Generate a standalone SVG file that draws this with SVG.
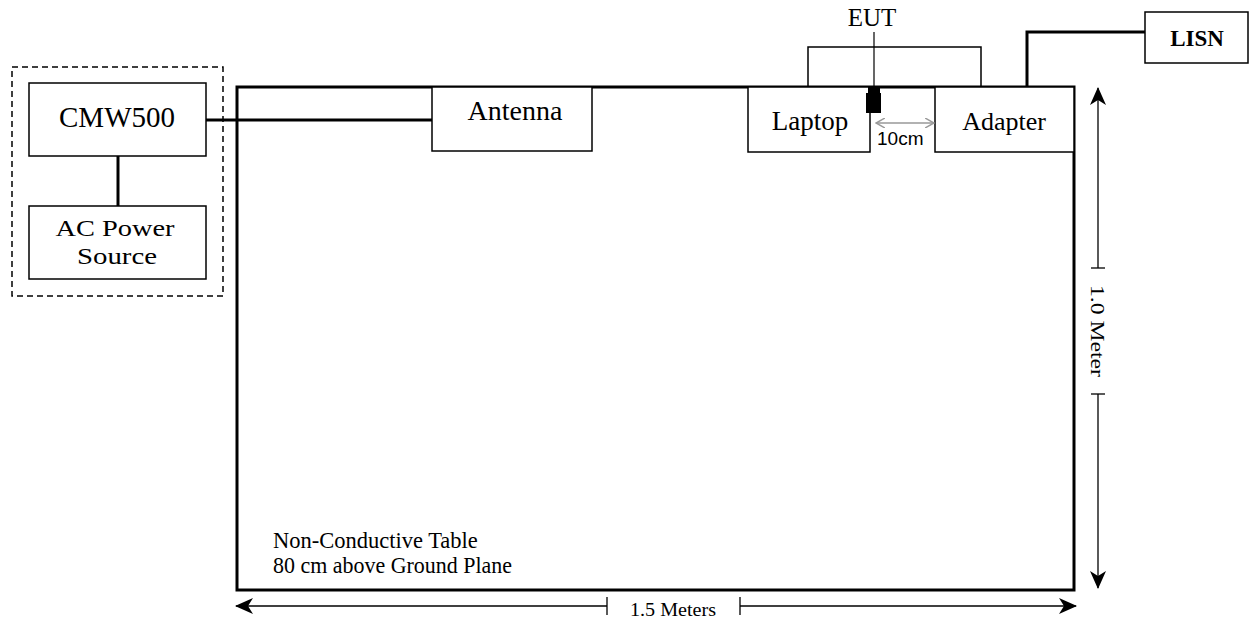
<svg xmlns="http://www.w3.org/2000/svg" width="1252" height="627" viewBox="0 0 1252 627">
<defs>
<marker id="ah" viewBox="0 0 18 16" markerWidth="18" markerHeight="16" refX="17" refY="8" orient="auto-start-reverse" markerUnits="userSpaceOnUse">
<path d="M0,0 L18,8 L0,16 L5,8 z" fill="#000"/>
</marker>
<marker id="gh" viewBox="0 0 10 10" markerWidth="10" markerHeight="10" refX="9" refY="5" orient="auto-start-reverse" markerUnits="userSpaceOnUse">
<path d="M0,0 L9,5 L0,10" fill="none" stroke="#999" stroke-width="1.5"/>
</marker>
</defs>
<style>
.box{fill:#fff;stroke:#000;stroke-width:1.5}
.thick{fill:none;stroke:#000;stroke-width:3}
.thin{fill:none;stroke:#000;stroke-width:1.5}
.dim{stroke:#000;stroke-width:1.3}
.t{font-family:"Liberation Serif","Times New Roman",serif;fill:#000}
.lbl{text-anchor:middle}
</style>
<rect width="1252" height="627" fill="#fff"/>
<g id="table">
<rect x="237" y="87" width="837" height="503" class="thick"/>
<text class="t" x="273" y="548" font-size="22.5">Non-Conductive Table</text>
<text class="t" x="273" y="573" font-size="22.5" textLength="239" lengthAdjust="spacingAndGlyphs">80 cm above Ground Plane</text>
</g>
<g id="equipment-group">
<rect x="12" y="67" width="211" height="229" fill="none" stroke="#000" stroke-width="1.5" stroke-dasharray="6,4"/>
</g>
<g id="connectors">
<line x1="206" y1="120" x2="432" y2="120" class="thick"/>
<line x1="118" y1="156" x2="118" y2="206" class="thick"/>
<polyline points="1027,87 1027,32 1145,32" class="thick"/>
<line x1="874" y1="32" x2="874" y2="92" stroke="#000" stroke-width="1.2"/>
<polyline points="808,87 808,47 981,47 981,87" class="thin"/>
</g>
<g id="cmw500">
<rect x="29" y="83" width="177" height="73" class="box"/>
<text class="t lbl" x="117" y="127" font-size="29">CMW500</text>
</g>
<g id="ac-power">
<rect x="29" y="206" width="177" height="73" class="box"/>
<text class="t lbl" x="115" y="236" font-size="24" textLength="119" lengthAdjust="spacingAndGlyphs">AC Power</text>
<text class="t lbl" x="117" y="264" font-size="24" textLength="80" lengthAdjust="spacingAndGlyphs">Source</text>
</g>
<g id="antenna">
<rect x="432" y="87" width="160" height="64" class="box"/>
<text class="t lbl" x="515" y="120" font-size="28">Antenna</text>
</g>
<g id="laptop">
<rect x="748" y="87" width="122" height="65" class="box"/>
<text class="t lbl" x="810" y="130" font-size="27">Laptop</text>
</g>
<g id="adapter">
<rect x="935" y="87" width="139" height="65" class="box"/>
<text class="t lbl" x="1004" y="130" font-size="26">Adapter</text>
</g>
<g id="eut">
<text class="t" x="872" y="26" font-size="25" text-anchor="middle">EUT</text>
<rect x="868" y="87" width="12" height="6" fill="#000"/>
<rect x="866" y="93" width="15" height="20" fill="#000"/>
</g>
<g id="lisn">
<rect x="1145" y="12" width="103" height="51" class="box"/>
<text class="t" x="1197" y="46" font-size="23" font-weight="bold" text-anchor="middle">LISN</text>
</g>
<g id="dimensions">
<line x1="876" y1="123" x2="934" y2="123" stroke="#999" stroke-width="1.5" marker-start="url(#gh)" marker-end="url(#gh)"/>
<text x="877" y="145" font-family="Liberation Sans,Arial,sans-serif" font-size="19">10cm</text>
<line x1="1098" y1="268" x2="1098" y2="88" class="dim" marker-end="url(#ah)"/>
<line x1="1098" y1="394" x2="1098" y2="588" class="dim" marker-end="url(#ah)"/>
<line x1="1091" y1="268" x2="1105" y2="268" class="dim"/>
<line x1="1091" y1="394" x2="1105" y2="394" class="dim"/>
<text class="t" x="0" y="0" font-size="19" text-anchor="middle" textLength="92" lengthAdjust="spacingAndGlyphs" transform="translate(1091,331) rotate(90)">1.0 Meter</text>
<line x1="607" y1="606" x2="236" y2="606" class="dim" marker-end="url(#ah)"/>
<line x1="740" y1="606" x2="1076" y2="606" class="dim" marker-end="url(#ah)"/>
<line x1="607" y1="597" x2="607" y2="615" class="dim"/>
<line x1="740" y1="597" x2="740" y2="615" class="dim"/>
<text class="t" x="673" y="616" font-size="18" text-anchor="middle" textLength="86" lengthAdjust="spacingAndGlyphs">1.5 Meters</text>
</g>
</svg>
